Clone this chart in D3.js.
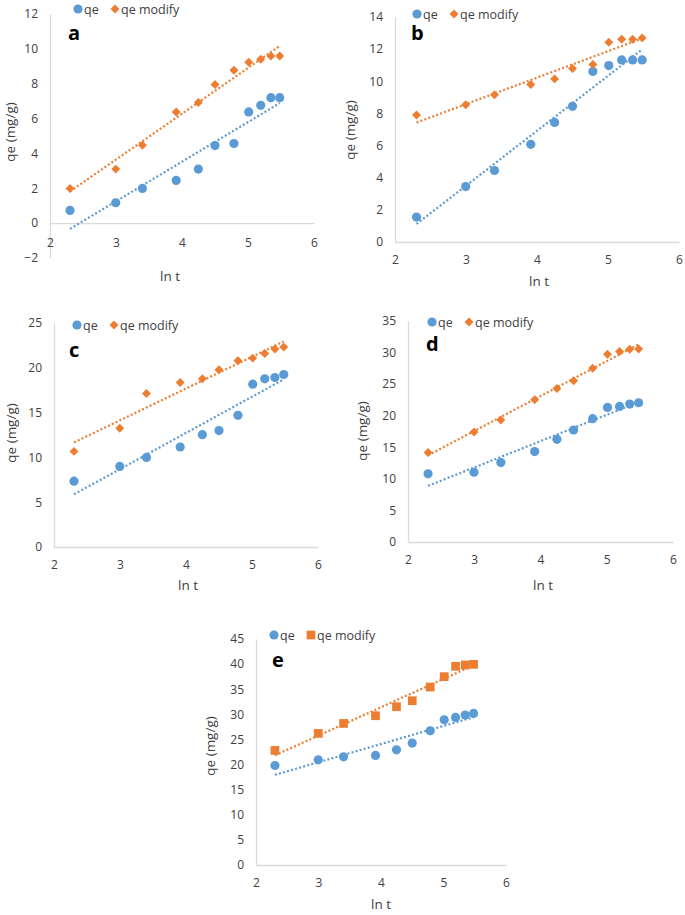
<!DOCTYPE html>
<html><head><meta charset="utf-8">
<script src="https://cdn.jsdelivr.net/npm/d3@7/dist/d3.min.js"></script>
<style>
body{margin:0;background:#fff;}
svg text{font-family:"Open Sans",sans-serif;}
</style></head>
<body>
<svg id="chart" width="685" height="915"></svg>
<script>
// ---- data ----
const lnT = [2.303, 2.996, 3.401, 3.912, 4.248, 4.500, 4.787, 5.011, 5.193, 5.347, 5.481];
const xTicks = [2, 3, 4, 5, 6];
const seriesNames = ["qe", "qe modify"];

const qeA    = [0.73, 1.17, 1.99, 2.45, 3.10, 4.45, 4.57, 6.38, 6.76, 7.20, 7.20];
const qeModA = [1.99, 3.10, 4.47, 6.38, 6.92, 7.95, 8.77, 9.23, 9.40, 9.59, 9.59];
const yTicksA = [-2, 0, 2, 4, 6, 8, 10, 12];

const qeB    = [1.55, 3.45, 4.45, 6.08, 7.44, 8.44, 10.61, 10.98, 11.33, 11.33, 11.33];
const qeModB = [7.90, 8.54, 9.16, 9.80, 10.15, 10.79, 11.04, 12.43, 12.61, 12.61, 12.70];
const yTicksB = [0, 2, 4, 6, 8, 10, 12, 14];

const qeC    = [7.35, 8.99, 10.00, 11.16, 12.54, 12.99, 14.70, 18.17, 18.77, 18.92, 19.25];
const qeModC = [10.67, 13.25, 17.13, 18.36, 18.77, 19.78, 20.78, 21.08, 21.60, 22.09, 22.31];
const yTicksC = [0, 5, 10, 15, 20, 25];

const qeD    = [10.79, 11.05, 12.58, 14.32, 16.26, 17.74, 19.53, 21.32, 21.47, 21.84, 22.05];
const qeModD = [14.16, 17.42, 19.32, 22.53, 24.32, 25.53, 27.53, 29.74, 30.16, 30.53, 30.58];
const yTicksD = [0, 5, 10, 15, 20, 25, 30, 35];

const qeE    = [19.81, 20.94, 21.54, 21.81, 22.94, 24.27, 26.73, 28.92, 29.39, 29.85, 30.19];
const qeModE = [22.81, 26.20, 28.19, 29.72, 31.52, 32.71, 35.44, 37.50, 39.56, 39.83, 39.96];
const yTicksE = [0, 5, 10, 15, 20, 25, 30, 35, 40, 45];

const panelLetters = ["a", "b", "c", "d", "e"];

// ---- layout (not data) ----
const BLUE = "#5B9BD5", ORANGE = "#ED7D31", AXIS = "#D9D9D9", TXT = "#404040";
const panels = [
  {letter: panelLetters[0], qe: qeA, mod: qeModA, ticks: yTicksA, modShape: "diamond", xPad: 15,
   x0: 50, x1: 314, yTop: 14, yBot: 258, yTitleX: 15, yTitleC: 132, xTitleX: 170, xTitleY: 281, legX: 78, legY: 9, letX: 68, letY: 40},
  {letter: panelLetters[1], qe: qeB, mod: qeModB, ticks: yTicksB, modShape: "diamond", xPad: 13,
   x0: 395, x1: 679, yTop: 17, yBot: 242, yTitleX: 355, yTitleC: 130, xTitleX: 539, xTitleY: 286, legX: 417, legY: 14, letX: 411, letY: 40},
  {letter: panelLetters[2], qe: qeC, mod: qeModC, ticks: yTicksC, modShape: "diamond", xPad: 13,
   x0: 54, x1: 318, yTop: 323, yBot: 547, yTitleX: 16, yTitleC: 433, xTitleX: 188, xTitleY: 590, legX: 77, legY: 325, letX: 69, letY: 357},
  {letter: panelLetters[3], qe: qeD, mod: qeModD, ticks: yTicksD, modShape: "diamond", xPad: 13,
   x0: 408, x1: 673, yTop: 321, yBot: 542, yTitleX: 367, yTitleC: 431, xTitleX: 543, xTitleY: 590, legX: 432, legY: 322, letX: 426, letY: 351},
  {letter: panelLetters[4], qe: qeE, mod: qeModE, ticks: yTicksE, modShape: "square", xPad: 13,
   x0: 256, x1: 506, yTop: 639, yBot: 865, yTitleX: 215, yTitleC: 746, xTitleX: 381, xTitleY: 909, legX: 274, legY: 635, letX: 272, letY: 667}
];

const svg = d3.select("#chart");

function linreg(xs, ys) {
  const n = xs.length, mx = d3.mean(xs), my = d3.mean(ys);
  let sxy = 0, sxx = 0;
  for (let i = 0; i < n; i++) { sxy += (xs[i]-mx)*(ys[i]-my); sxx += (xs[i]-mx)*(xs[i]-mx); }
  const b = sxy / sxx; return {b, a: my - b*mx};
}

function marker(sel, shape) {
  if (shape === "square") {
    sel.attr("d", d3.symbol().type(d3.symbolSquare).size(76));
  } else {
    sel.attr("d", d3.symbol().type(d3.symbolSquare).size(40));
  }
  return sel;
}

panels.forEach(p => {
  const g = svg.append("g");
  const x = d3.scaleLinear().domain([2, 6]).range([p.x0, p.x1]);
  const y = d3.scaleLinear().domain([d3.min(p.ticks), d3.max(p.ticks)]).range([p.yBot, p.yTop]);
  const rot = p.modShape === "diamond" ? " rotate(45)" : "";

  // y axis
  const ya = g.append("g").attr("transform", `translate(${p.x0},0)`)
    .call(d3.axisLeft(y).tickValues(p.ticks).tickSize(0).tickPadding(12).tickFormat(d3.format("d")));
  ya.select(".domain").attr("stroke", AXIS).attr("stroke-width", 1.3);
  ya.selectAll("text").attr("fill", TXT).style("font-size", "12px").style("font-family", "'Open Sans',sans-serif");

  // x axis at y = 0
  const xa = g.append("g").attr("transform", `translate(0,${y(0)})`)
    .call(d3.axisBottom(x).tickValues(xTicks).tickSize(0).tickPadding(p.xPad).tickFormat(d3.format("d")));
  xa.select(".domain").attr("stroke", AXIS).attr("stroke-width", 1.3);
  xa.selectAll("text").attr("fill", TXT).style("font-size", "12px").style("font-family", "'Open Sans',sans-serif");

  // titles
  g.append("text").attr("x", p.xTitleX).attr("y", p.xTitleY)
    .attr("text-anchor", "middle").attr("fill", TXT).style("font-size", "13.5px").text("ln t");
  g.append("text").attr("transform", `translate(${p.yTitleX},${p.yTitleC}) rotate(-90)`)
    .attr("text-anchor", "middle").attr("fill", TXT).style("font-size", "13.5px").text("qe (mg/g)");

  // trendlines
  [[p.qe, BLUE], [p.mod, ORANGE]].forEach(([ys, col]) => {
    const r = linreg(lnT, ys);
    const xs = [d3.min(lnT), d3.max(lnT)];
    g.append("line")
      .attr("x1", x(xs[0])).attr("y1", y(r.a + r.b * xs[0]))
      .attr("x2", x(xs[1])).attr("y2", y(r.a + r.b * xs[1]))
      .attr("stroke", col).attr("stroke-width", 2.2).attr("stroke-dasharray", "2 2.2");
  });

  // markers
  g.selectAll(".qe").data(lnT).enter().append("circle")
    .attr("cx", d => x(d)).attr("cy", (d, i) => y(p.qe[i])).attr("r", 4.6).attr("fill", BLUE);
  marker(g.selectAll(".mod").data(lnT).enter().append("path"), p.modShape)
    .attr("transform", (d, i) => `translate(${x(d)},${y(p.mod[i])})${rot}`)
    .attr("fill", ORANGE);

  // legend
  const lg = g.append("g").attr("transform", `translate(${p.legX},${p.legY})`);
  lg.append("circle").attr("cx", 0).attr("cy", 0).attr("r", 4.6).attr("fill", BLUE);
  lg.append("text").attr("x", 6).attr("y", 4.5).attr("fill", TXT).style("font-size", "12.5px").text(seriesNames[0]);
  marker(lg.append("path"), p.modShape).attr("transform", `translate(37,0)${rot}`).attr("fill", ORANGE);
  lg.append("text").attr("x", 43).attr("y", 4.5).attr("fill", TXT).style("font-size", "12.5px").text(seriesNames[1]);

  // panel letter
  g.append("text").attr("x", p.letX).attr("y", p.letY).attr("fill", "#000")
    .style("font-size", "20px").style("font-weight", "bold").text(p.letter);
});
</script>
</body></html>
